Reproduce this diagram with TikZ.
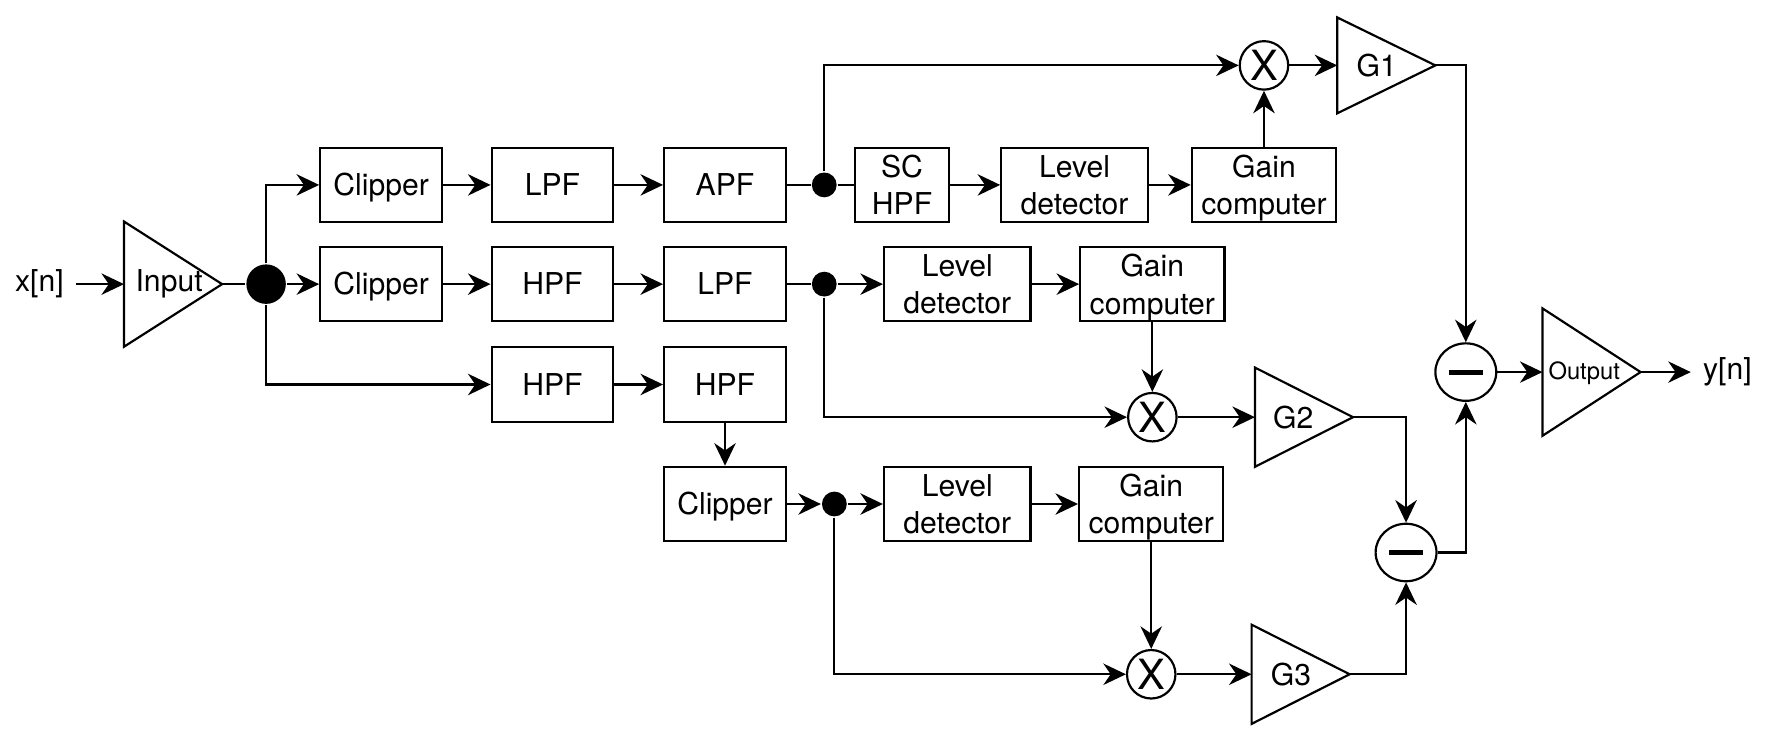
\documentclass[tikz,border=0pt]{standalone}
\usepackage{fontspec}
\setmainfont{TeX Gyre Heros}
\usetikzlibrary{arrows.meta,shapes.geometric}

\begin{document}
\begin{tikzpicture}[x=0.1mm,y=-0.1mm,line width=0.55pt,
  >={Stealth[length=2mm,width=1.9mm,inset=0.65mm]},
  every node/.style={font=\fontsize{7.6}{9.4}\selectfont,inner sep=0pt},
  blk/.style={draw,align=center,minimum width=10.8mm,minimum height=6.6mm},
  one/.style={text height=2.45mm,text depth=0.55mm},
  amp/.style={draw,isosceles triangle,isosceles triangle stretches,anchor=apex,outer sep=0pt,
    minimum height=8.7mm,minimum width=#1},
  mul/.style={draw,circle,minimum size=4.3mm,font=\fontsize{10.5}{12}\selectfont},
  sub/.style={draw,ellipse,minimum width=5.4mm,minimum height=5.1mm,
    path picture={\draw[line width=0.45mm] ([xshift=-1.5mm]path picture bounding box.center) -- ([xshift=1.5mm]path picture bounding box.center);}},
  tap/.style={fill,circle,minimum size=#1},
  sig/.style={inner sep=1mm}]
\useasboundingbox (0,0) rectangle (1568,658);
% input stage and splitter
\node[sig] (xn) at (35,252) {x[n]};
\node[amp=11.1mm] (in) at (197,252) {};
\node (inT) at (150,252) {Input};
\node[tap=3.5mm] (split) at (236,252) {};
% filter chains
\foreach \nm/\x/\y/\txt in {clipA/338/164/Clipper, lpfA/490/164/LPF, apf/643/164/APF,
    clipB/338/252/Clipper, hpfB/490/252/HPF, lpfB/643/252/LPF,
    hpfC/490/341/HPF, hpfD/643/341/HPF, clipD/643/447/Clipper}
  \node[blk,one] (\nm) at (\x,\y) {\txt};
\node[blk,minimum width=8.4mm] (schpf) at (800,164) {SC\\HPF};
\foreach \nm/\x/\y in {levA/953/164, levB/849/252, levD/849/447}
  \node[blk,minimum width=13mm] (\nm) at (\x,\y) {Level\\detector};
\foreach \nm/\x/\y in {gainA/1121/164, gainB/1022/252, gainD/1021/447}
  \node[blk,minimum width=12.8mm,text depth=0pt] (\nm) at (\x,\y) {Gain\\computer};
\node[tap=2.2mm] (tapA) at (731,164) {};
\node[tap=2.2mm] (tapB) at (731,252) {};
\node[tap=2.2mm] (tapD) at (740,447) {};
% gain stages
\node[mul] (mulA) at (1121,58) {X};
\node[mul] (mulB) at (1022,370) {X};
\node[mul] (mulD) at (1021,598) {X};
\node[amp=8.5mm] (gA) at (1273,58) {};
\node[amp=8.8mm] (gB) at (1200,370) {};
\node[amp=8.8mm] (gC) at (1197,598) {};
\node (gAT) at (1221,58) {G1};
\node (gBT) at (1147,370) {G2};
\node (gCT) at (1145,598) {G3};
\node[sub] (subA) at (1300,330) {};
\node[sub] (subB) at (1247,490) {};
\node[amp=11.3mm] (out) at (1455,330) {};
\node[font=\fontsize{6}{7}\selectfont] (outT) at (1405,331) {Output};
\node[sig] (yn) at (1532,330) {y[n]};
% connectors
\draw[->] (xn) -- (in);
\draw (in.apex) -- (split);
\draw[->] (split) -- (clipB);
\draw[->] (split) |- (clipA);
\draw[->] (split) |- (hpfC);
\foreach \a/\b in {clipA/lpfA, lpfA/apf, clipB/hpfB, hpfB/lpfB, hpfC/hpfD, hpfD/clipD,
    schpf/levA, levA/gainA, gainA/mulA, tapB/levB, levB/gainB, gainB/mulB,
    clipD/tapD, tapD/levD, levD/gainD, gainD/mulD, mulA/gA, mulB/gB, mulD/gC, subA/out}
  \draw[->] (\a) -- (\b);
\draw (apf) -- (tapA) -- (schpf);
\draw (lpfB) -- (tapB);
\draw[->] (tapA) |- (mulA);
\draw[->] (tapB) |- (mulB);
\draw[->] (tapD) |- (mulD);
\draw[->] (gA.apex) -| (subA);
\draw[->] (gB.apex) -| (subB);
\draw[->] (gC.apex) -| (subB);
\draw[->] (subB) -| (subA);
\draw[->] (out.apex) -- (yn);
\end{tikzpicture}
\end{document}
